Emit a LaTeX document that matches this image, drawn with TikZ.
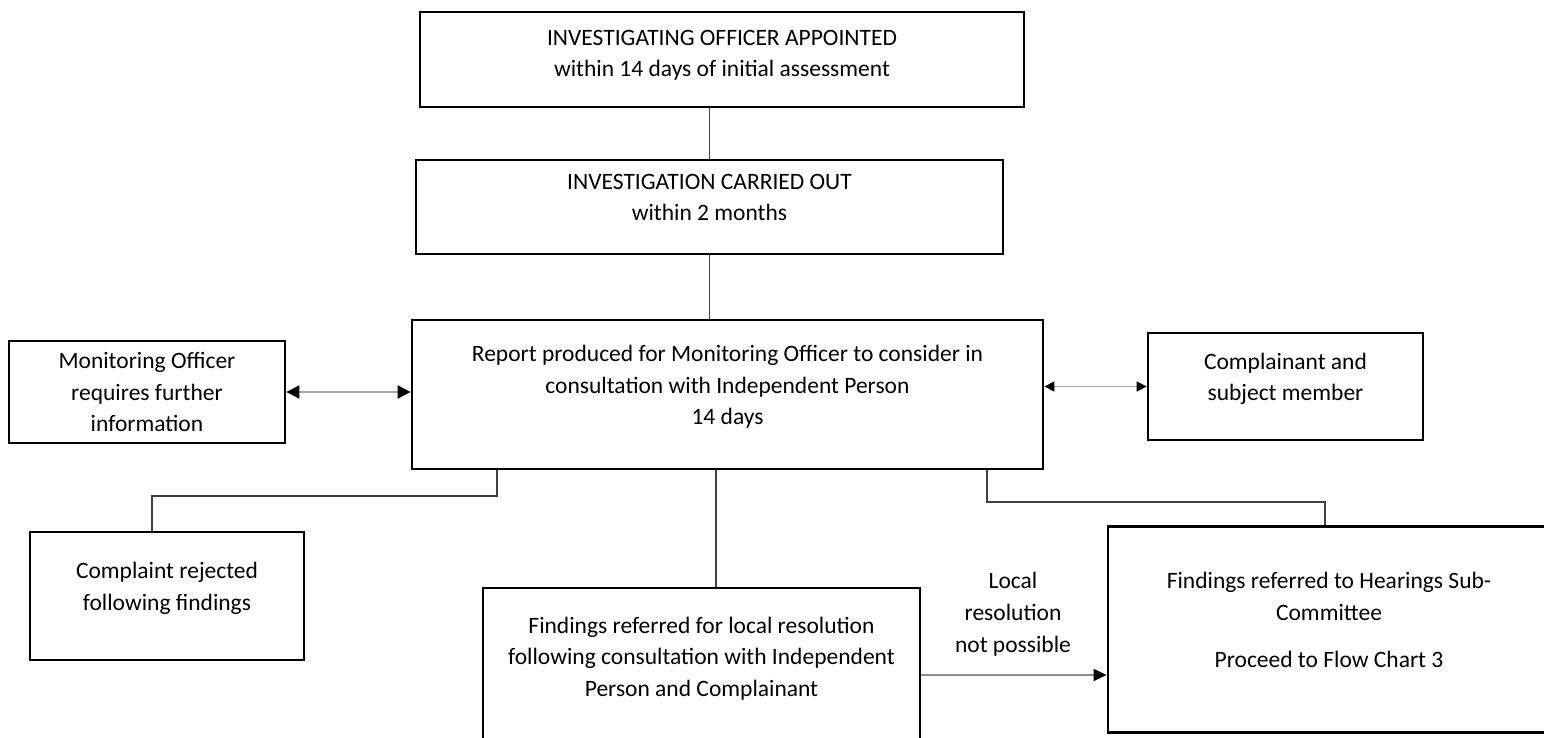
\documentclass[tikz,border=0pt]{standalone}
\usepackage{fontspec}
\setmainfont{Carlito}
\usetikzlibrary{arrows.meta}
\tikzset{
  box/.style={draw, line width=2.8pt, align=center, inner sep=0pt, text depth=19pt,
    font=\fontsize{23.5}{31.5}\selectfont},
  link/.style={line width=1.4pt, draw=black!75},
  twoway/.style={line width=2pt, draw=black!35,
    {Triangle[length=13pt,width=13pt,color=black]}-{Triangle[length=13pt,width=13pt,color=black]}},
  twowaysmall/.style={line width=1.5pt, draw=black!35,
    {Triangle[length=10pt,width=10pt,color=black]}-{Triangle[length=10pt,width=10pt,color=black]}},
  oneway/.style={line width=1.6pt, draw=black!45, -{Triangle[length=13pt,width=12pt,color=black]}},
}
\begin{document}
\begin{tikzpicture}[x=1pt,y=-1pt]
\useasboundingbox (0,0) rectangle (1544,738);
% boxes
\node[box, text depth=12pt, minimum width=604pt, minimum height=95pt] (appt) at (722,59.5)
  {INVESTIGATING OFFICER APPOINTED\\within 14 days of initial assessment};
\node[box, minimum width=587pt, minimum height=94pt] (carried) at (709.5,207)
  {INVESTIGATION CARRIED OUT\\within 2 months};
\node[box, minimum width=631pt, minimum height=149pt] (report) at (727.5,394.5)
  {Report produced for Monitoring Officer to consider in\\consultation with Independent Person\\14 days};
\node[box, text depth=0pt, minimum width=276pt, minimum height=102pt] (moinfo) at (147,392)
  {Monitoring Officer\\requires further\\information\vphantom{g}};
\node[box, minimum width=275pt, minimum height=107pt] (parties) at (1285.5,386.5)
  {Complainant and\\subject member};
\node[box, minimum width=274pt, minimum height=128pt] (rejected) at (167,596)
  {Complaint rejected\\following findings};
\node[box, minimum width=437pt, minimum height=156pt] (local) at (701.5,666)
  {Findings referred for local resolution\\following consultation with Independent\\Person and Complainant};
\node[box, minimum width=442pt, minimum height=206pt] (hearing) at (1329,629.5)
  {Findings referred to Hearings Sub-\\Committee\\[16pt]Proceed to Flow Chart 3};
\node[align=center, font=\fontsize{23.5}{32}\selectfont] (nolocal) at (1013,614)
  {Local\\resolution\\not possible};
% connectors
\draw[link] (carried.north |- appt.south) -- (carried.north);
\draw[link] (carried.south) -- (carried.south |- report.north);
\draw[twoway] (moinfo.east) -- (moinfo.east -| report.west);
\draw[twowaysmall] (parties.west -| report.east) -- (parties.west);
\draw[link] (report.south -| 497,0) -- (497,496) -| (rejected.north -| 152,0);
\draw[link] (report.south -| 716,0) -- (local.north -| 716,0);
\draw[link] (report.south -| 987,0) -- (987,502) -| (hearing.north -| 1325,0);
\draw[oneway] (local.east |- 0,675) -- (hearing.west |- 0,675);
\end{tikzpicture}
\end{document}
